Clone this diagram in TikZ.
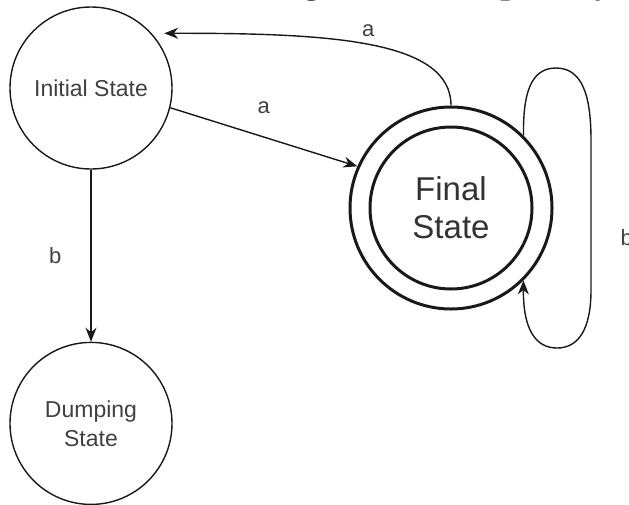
\documentclass[tikz,border=0pt]{standalone}
\usepackage{fontspec}
\setmainfont{Liberation Sans}
\newfontfamily\headfont{Liberation Serif}
\usetikzlibrary{positioning,arrows.meta}

\begin{document}
\begin{tikzpicture}[x=1pt,y=1pt,
    >={Stealth[length=14pt,width=11pt]},
    state/.style={circle, draw=black!90, line width=1.4pt, minimum size=162pt, inner sep=0pt,
        text=black!75, font=\fontsize{23}{29}\selectfont, align=center},
    final/.style={state, line width=3pt, minimum size=202pt, text=black!80,
        font=\fontsize{33}{38}\selectfont},
    edge/.style={->, draw=black!90, line width=1.4pt},
    lbl/.style={inner sep=0pt, text=black!75, font=\fontsize{22}{26}\selectfont}]
\useasboundingbox (0,0) rectangle (629,-504);
\clip (0,0) rectangle (629,-504);

%Title (cut off at the top)
\node[anchor=base west, inner sep=0pt, font=\headfont\bfseries\fontsize{35}{40}\selectfont]
    (title) at (-19,7) {Which of the following will be accepted by o};

%Nodes
\node[state]    (I)     at (91,-88)         {Initial State};
\node[state]    (D)     [below=172pt of I]  {Dumping\\State};
\node[final]    (F)     at (451,-208)       {Final\\State};
\draw[line width=3pt, draw=black!90] (F.center) circle[radius=81pt];

%Lines
\draw[edge]   (I.south) -- (D.north)
    node[lbl, midway, left=29pt]{b};

\draw[edge]   (I.-14) -- (F.156)
    node[lbl, midway, above=23pt]{a};

\draw[edge, shorten >=12.5pt]   (F.north) .. controls (451,-40) and (330,-33) .. (I.42.8)
    node[lbl, pos=0.5, above=7pt]{a};

\draw[edge]   (F.45) .. controls (523,-95) and (530,-68) .. (556,-68)
    .. controls (582,-68) and (591,-95) .. (591,-140) -- (591,-290)
    node[lbl, pos=0.65, right=29pt]{b}
    .. controls (591,-330) and (578,-348) .. (557,-348)
    .. controls (536,-348) and (523,-330) .. (F.-45);
\end{tikzpicture}
\end{document}
